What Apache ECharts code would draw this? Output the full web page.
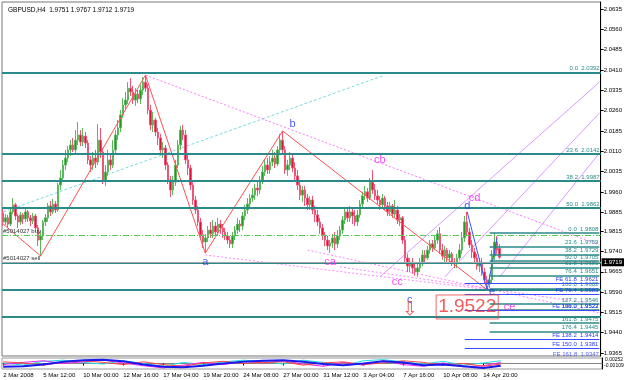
<!DOCTYPE html>
<html>
<head>
<meta charset="utf-8">
<script src="https://cdn.jsdelivr.net/npm/echarts@6/dist/echarts.min.js"></script>
<style>
html,body{margin:0;padding:0;background:#fff}
#PriceChart{width:625px;height:380px}
</style>
</head>
<body>
<div id="PriceChart"></div>
<script>
//GBPUSD H4 bars: [open, close, low, high]
var candles = [
[1.9882,1.9849,1.9834,1.9900],[1.9849,1.9864,1.9838,1.9878],[1.9864,1.9841,1.9827,1.9875],[1.9841,1.9886,1.9834,1.9897],[1.9886,1.9912,1.9878,1.9937],
[1.9912,1.9871,1.9856,1.9919],[1.9871,1.9849,1.9827,1.9878],[1.9849,1.9875,1.9838,1.9886],[1.9875,1.9860,1.9841,1.9882],[1.9860,1.9886,1.9849,1.9900],
[1.9886,1.9864,1.9849,1.9893],[1.9864,1.9853,1.9834,1.9875],[1.9853,1.9871,1.9841,1.9882],[1.9871,1.9827,1.9812,1.9878],[1.9827,1.9782,1.9760,1.9838],
[1.9782,1.9797,1.9723,1.9816],[1.9797,1.9849,1.9782,1.9856],[1.9849,1.9864,1.9834,1.9878],[1.9864,1.9908,1.9849,1.9919],[1.9908,1.9886,1.9871,1.9926],
[1.9886,1.9915,1.9878,1.9934],[1.9915,1.9893,1.9882,1.9926],[1.9893,1.9985,1.9886,1.9993],[1.9985,2.0011,1.9967,2.0041],[2.0011,2.0059,1.9996,2.0078],
[2.0059,2.0085,2.0041,2.0115],[2.0085,2.0115,2.0070,2.0129],[2.0115,2.0133,2.0092,2.0151],[2.0133,2.0115,2.0107,2.0159],[2.0115,2.0151,2.0103,2.0188],
[2.0151,2.0170,2.0133,2.0218],[2.0170,2.0144,2.0129,2.0188],[2.0144,2.0166,2.0129,2.0196],[2.0166,2.0140,2.0122,2.0181],[2.0140,2.0078,2.0063,2.0151],
[2.0078,2.0059,2.0033,2.0092],[2.0059,2.0085,2.0041,2.0107],[2.0085,2.0070,2.0048,2.0115],[2.0070,2.0151,2.0059,2.0210],[2.0151,2.0107,2.0085,2.0196],
[2.0107,2.0004,1.9989,2.0122],[2.0004,2.0033,1.9982,2.0059],[2.0033,2.0078,2.0019,2.0115],[2.0078,2.0059,2.0041,2.0100],[2.0059,2.0115,2.0048,2.0151],
[2.0115,2.0170,2.0096,2.0188],[2.0170,2.0196,2.0151,2.0225],[2.0196,2.0244,2.0181,2.0262],[2.0244,2.0281,2.0233,2.0306],[2.0281,2.0299,2.0262,2.0329],
[2.0299,2.0343,2.0284,2.0365],[2.0343,2.0329,2.0314,2.0380],[2.0329,2.0299,2.0284,2.0351],[2.0299,2.0321,2.0277,2.0343],[2.0321,2.0303,2.0288,2.0336],
[2.0303,2.0336,2.0284,2.0354],[2.0336,2.0365,2.0317,2.0384],[2.0365,2.0343,2.0329,2.0391],[2.0343,2.0262,2.0247,2.0358],[2.0262,2.0207,2.0188,2.0281],
[2.0207,2.0225,2.0181,2.0255],[2.0225,2.0181,2.0166,2.0233],[2.0181,2.0159,2.0133,2.0196],[2.0159,2.0115,2.0096,2.0174],[2.0115,2.0122,2.0085,2.0144],
[2.0122,2.0059,2.0041,2.0133],[2.0059,2.0004,1.9989,2.0070],[2.0004,1.9967,1.9941,2.0019],[1.9967,1.9996,1.9948,2.0019],[1.9996,2.0059,1.9982,2.0078],
[2.0059,2.0133,2.0048,2.0151],[2.0133,2.0188,2.0115,2.0203],[2.0188,2.0170,2.0151,2.0207],[2.0170,2.0078,2.0063,2.0188],[2.0078,2.0048,2.0022,2.0096],
[2.0048,1.9985,1.9967,2.0059],[1.9985,1.9930,1.9912,1.9996],[1.9930,1.9893,1.9878,1.9945],[1.9893,1.9849,1.9834,1.9908],[1.9849,1.9801,1.9782,1.9864],
[1.9801,1.9775,1.9753,1.9819],[1.9775,1.9790,1.9734,1.9805],[1.9790,1.9819,1.9775,1.9834],[1.9819,1.9805,1.9790,1.9849],[1.9805,1.9834,1.9790,1.9856],
[1.9834,1.9812,1.9797,1.9849],[1.9812,1.9841,1.9797,1.9864],[1.9841,1.9827,1.9805,1.9856],[1.9827,1.9812,1.9790,1.9841],[1.9812,1.9797,1.9782,1.9827],
[1.9797,1.9782,1.9768,1.9812],[1.9782,1.9768,1.9753,1.9797],[1.9768,1.9797,1.9753,1.9812],[1.9797,1.9819,1.9782,1.9834],[1.9819,1.9841,1.9805,1.9864],
[1.9841,1.9834,1.9812,1.9856],[1.9834,1.9871,1.9819,1.9886],[1.9871,1.9893,1.9856,1.9912],[1.9893,1.9915,1.9878,1.9937],[1.9915,1.9937,1.9900,1.9952],
[1.9937,1.9948,1.9923,1.9974],[1.9948,1.9974,1.9930,1.9989],[1.9974,1.9967,1.9945,1.9996],[1.9967,2.0004,1.9952,2.0019],[2.0004,2.0033,1.9989,2.0055],
[2.0033,2.0059,2.0019,2.0078],[2.0059,2.0041,2.0026,2.0085],[2.0041,2.0070,2.0026,2.0092],[2.0070,2.0085,2.0055,2.0115],[2.0085,2.0063,2.0048,2.0107],
[2.0063,2.0115,2.0055,2.0129],[2.0115,2.0151,2.0100,2.0174],[2.0151,2.0115,2.0100,2.0185],[2.0115,2.0041,2.0026,2.0129],[2.0041,2.0059,2.0019,2.0078],
[2.0059,2.0085,2.0041,2.0107],[2.0085,2.0048,2.0033,2.0100],[2.0048,2.0019,2.0004,2.0070],[2.0019,1.9985,1.9967,2.0041],[1.9985,1.9948,1.9930,2.0004],
[1.9948,1.9967,1.9923,1.9982],[1.9967,1.9937,1.9908,1.9982],[1.9937,1.9912,1.9893,1.9952],[1.9912,1.9930,1.9893,1.9945],[1.9930,1.9893,1.9878,1.9945],
[1.9893,1.9875,1.9849,1.9908],[1.9875,1.9849,1.9834,1.9893],[1.9849,1.9827,1.9805,1.9864],[1.9827,1.9801,1.9782,1.9841],[1.9801,1.9782,1.9760,1.9812],
[1.9782,1.9760,1.9745,1.9797],[1.9760,1.9771,1.9734,1.9782],[1.9771,1.9790,1.9753,1.9805],[1.9790,1.9768,1.9745,1.9812],[1.9768,1.9797,1.9753,1.9819],
[1.9797,1.9819,1.9782,1.9834],[1.9819,1.9856,1.9805,1.9871],[1.9856,1.9886,1.9841,1.9900],[1.9886,1.9864,1.9849,1.9900],[1.9864,1.9886,1.9849,1.9908],
[1.9886,1.9871,1.9841,1.9900],[1.9871,1.9849,1.9834,1.9893],[1.9849,1.9875,1.9834,1.9893],[1.9875,1.9915,1.9864,1.9930],[1.9915,1.9945,1.9900,1.9960],
[1.9945,1.9960,1.9930,1.9982],[1.9960,1.9937,1.9923,1.9974],[1.9937,1.9996,1.9930,2.0011],[1.9996,1.9967,1.9952,2.0041],[1.9967,1.9945,1.9930,1.9989],
[1.9945,1.9930,1.9915,1.9967],[1.9930,1.9912,1.9893,1.9945],[1.9912,1.9937,1.9900,1.9952],[1.9937,1.9908,1.9893,1.9945],[1.9908,1.9886,1.9871,1.9923],
[1.9886,1.9908,1.9871,1.9923],[1.9908,1.9878,1.9864,1.9915],[1.9878,1.9893,1.9864,1.9930],[1.9893,1.9856,1.9841,1.9908],[1.9856,1.9864,1.9834,1.9878],
[1.9864,1.9782,1.9768,1.9871],[1.9782,1.9716,1.9701,1.9797],[1.9716,1.9686,1.9664,1.9731],[1.9686,1.9701,1.9664,1.9716],[1.9701,1.9679,1.9657,1.9716],
[1.9679,1.9664,1.9650,1.9694],[1.9664,1.9679,1.9646,1.9701],[1.9679,1.9701,1.9664,1.9716],[1.9701,1.9727,1.9686,1.9745],[1.9727,1.9716,1.9701,1.9745],
[1.9716,1.9745,1.9709,1.9760],[1.9745,1.9768,1.9731,1.9782],[1.9768,1.9753,1.9738,1.9782],[1.9753,1.9782,1.9745,1.9797],[1.9782,1.9805,1.9768,1.9819],
[1.9805,1.9745,1.9731,1.9830],[1.9745,1.9723,1.9709,1.9768],[1.9723,1.9745,1.9701,1.9760],[1.9745,1.9716,1.9701,1.9753],[1.9716,1.9731,1.9694,1.9745],
[1.9731,1.9701,1.9686,1.9738],[1.9701,1.9694,1.9679,1.9716],[1.9694,1.9716,1.9679,1.9731],[1.9716,1.9745,1.9709,1.9768],[1.9745,1.9790,1.9731,1.9812],
[1.9790,1.9849,1.9775,1.9871],[1.9849,1.9812,1.9797,1.9886],[1.9812,1.9764,1.9753,1.9827],[1.9764,1.9738,1.9716,1.9782],[1.9738,1.9716,1.9694,1.9753],
[1.9716,1.9686,1.9672,1.9731],[1.9686,1.9701,1.9664,1.9716],[1.9701,1.9664,1.9650,1.9716],[1.9664,1.9635,1.9620,1.9679],[1.9635,1.9620,1.9602,1.9650],
[1.9620,1.9635,1.9605,1.9657],[1.9635,1.9723,1.9620,1.9745],[1.9723,1.9775,1.9709,1.9808],[1.9775,1.9745,1.9731,1.9797],[1.9751,1.9719,1.9712,1.9767]
];
var barCount = 240;   //包含右侧空白区域
var labelStep = 16;
var timeLabels = ['2 Mar 2008', '5 Mar 12:00', '10 Mar 00:00', '12 Mar 16:00', '17 Mar 04:00', '19 Mar 20:00', '24 Mar 08:00',
    '27 Mar 00:00', '31 Mar 12:00', '3 Apr 04:00', '7 Apr 16:00', '10 Apr 08:00', '14 Apr 20:00'];
var priceTicks = [2.0635, 2.0560, 2.0485, 2.0410, 2.0335, 2.0260, 2.0185, 2.0110, 2.0035, 1.9960, 1.9885, 1.9815,
    1.9740, 1.9665, 1.9590, 1.9515, 1.9440, 1.9365];
var lastPrice = 1.9719;

//大斐波那契水平线
var bigFibLevels = [2.0392, 2.0142, 1.9987, 1.9862, 1.9737, 1.9560, 1.9545, 1.9454];
var bigFibNames = ['0.0', '23.6', '38.2', '50.0', '', '', '', ''];
//订单线
var orderLevels = [1.9849, 1.9672];
var orderNames = ['#5014027 buy', '#5014027 sell'];
//小斐波那契 (右侧)
var smallFibLevels = [1.9808, 1.9759, 1.9729, 1.9705, 1.9681, 1.9651, 1.9602, 1.9546, 1.9523, 1.9475, 1.9445];
var smallFibNames = ['0.0', '23.6', '38.2', '50.0', '61.8', '76.4', '100.0', '127.2', '138.2', '161.8', '176.4'];
var smallFibStart = 195;
var feLevels = [1.9621, 1.9583, 1.9522, 1.9414, 1.9381];
var feNames = ['FE 61.8', 'FE 76.4', 'FE 100.0', 'FE 138.2', 'FE 150.0'];
var feStart = 185;

//趋势线 [bar, price]
var zigzagPoints = [[0, 1.9841], [15, 1.9723], [57, 2.0391], [81, 1.9734], [112, 2.0185], [194, 1.9598]];
var waveDePoints = [[186, 1.9886], [194, 1.9598], [198, 1.9790]];
var cyanLine = [[0, 1.9886], [152, 2.0388]];
var pinkUpper = [[57, 2.0391], [239, 1.9764]];
var pinkLowers = [
    [[81, 1.9727], [195, 1.9598]],
    [[122, 1.9745], [239, 1.9513]],
    [[135, 1.9683], [239, 1.9543]]
];
var violetLines = [
    [[151, 1.9646], [239, 2.0365]],
    [[177, 1.9646], [239, 2.0251]],
    [[199, 1.9646], [239, 2.0103]]
];

//波浪标注
var waveLabels = [
    { name: 'a', bar: 81, price: 1.9701, color: '#2233ee' },
    { name: 'b', bar: 116, price: 2.0210, color: '#2233ee' },
    { name: 'c', bar: 163, price: 1.9561, color: '#2233ee' },
    { name: 'd', bar: 186, price: 1.9908, color: '#2233ee' },
    { name: 'e', bar: 196, price: 1.9590, color: '#2233ee' },
    { name: 'ca', bar: 131, price: 1.9701, color: '#ee22ee' },
    { name: 'cb', bar: 151, price: 2.0078, color: '#ee22ee' },
    { name: 'cc', bar: 158, price: 1.9628, color: '#ee22ee' },
    { name: 'cd', bar: 189, price: 1.9937, color: '#ee22ee' },
    { name: 'ce', bar: 203, price: 1.9535, color: '#ee22ee' }
];

//指标窗口
var oscIdx = [0, 8, 16, 24, 32, 40, 48, 56, 64, 72, 80, 88, 96, 104, 112, 120, 128, 136, 144, 152, 160, 168, 176, 184, 192, 199];
var oscBlue = [-0.6, -0.5, -0.2, 0.3, 0.6, 0.7, 0.4, -0.2, -0.6, -0.7, -0.4, 0.0, 0.3, 0.5, 0.6, 0.3, -0.1, -0.3, 0.0, 0.4, 0.2, -0.3, -0.2, -0.5, -0.8, -0.4];
var oscMagenta = [-0.2, 0.2, 0.5, 0.0, 0.3, 0.6, 0.1, -0.4, -0.8, -0.3, 0.2, -0.2, 0.4, 0.1, 0.5, -0.1, -0.5, 0.2, -0.3, 0.5, -0.2, -0.5, 0.1, -0.6, -0.4, 0.2];
var oscCyan = [0.1, -0.3, 0.4, 0.6, 0.2, -0.1, 0.5, 0.0, -0.5, 0.2, -0.2, 0.3, 0.6, 0.4, -0.1, 0.6, 0.2, -0.4, 0.5, 0.7, 0.3, -0.1, 0.4, -0.3, 0.1, 0.5];
var oscRed = [0.3, 0.1, -0.3, 0.2, 0.5, 0.2, -0.2, 0.3, -0.2, -0.5, 0.1, 0.4, 0.0, 0.2, 0.3, -0.3, 0.1, 0.3, -0.2, 0.1, 0.5, 0.2, -0.3, 0.0, -0.5, -0.1];

var FONT = 'Liberation Sans';

showChart();

//显示图表
function showChart() {
    var categories = [];
    for (var i = 0; i < barCount; i++) {
        var k = i / labelStep;
        categories.push(i % labelStep === 0 && timeLabels[k] ? timeLabels[k] : '');
    }
    var hasLabel = function (index, value) { return value !== ''; };

    //水平线
    var hLines = [];
    bigFibLevels.forEach(function (p, k) {
        hLines.push({
            yAxis: p,
            lineStyle: { color: '#2a8a8a', width: 2, type: 'solid' },
            label: { show: bigFibNames[k] !== '', position: 'insideEndTop', distance: 1, formatter: bigFibNames[k] + '  ' + p.toFixed(4), color: '#2a8a8a', fontSize: 6, fontFamily: FONT }
        });
    });
    orderLevels.forEach(function (p, k) {
        hLines.push({
            yAxis: p,
            lineStyle: { color: '#55cc55', width: 1, type: [6, 2, 1, 2] },
            label: { show: true, position: 'insideStartTop', distance: 1, formatter: orderNames[k], color: '#333', fontSize: 6, fontFamily: FONT }
        });
    });
    hLines.push({
        yAxis: lastPrice,
        lineStyle: { color: '#a8a8a8', width: 1, type: 'solid' },
        label: { show: true, position: 'end', distance: 1, formatter: lastPrice.toFixed(4), color: '#fff', backgroundColor: '#000', padding: [1, 2], fontSize: 6, fontFamily: FONT }
    });
    smallFibLevels.forEach(function (p, k) {
        hLines.push([{
            coord: [smallFibStart, p],
            lineStyle: { color: '#2a8a8a', width: 1.5, type: 'solid' },
            label: { show: true, position: 'insideEndTop', distance: 1, formatter: smallFibNames[k] + '  ' + p.toFixed(4), color: '#2a8a8a', fontSize: 6, fontFamily: FONT }
        }, { coord: [barCount - 1, p] }]);
    });
    feLevels.forEach(function (p, k) {
        hLines.push([{
            coord: [feStart, p],
            lineStyle: { color: '#3a4cff', width: 1, type: 'solid' },
            label: { show: true, position: 'insideEndTop', distance: 1, formatter: feNames[k] + '  ' + p.toFixed(4), color: '#2b3bff', fontSize: 6, fontFamily: FONT }
        }, { coord: [barCount - 1, p] }]);
    });

    var series = [{
        type: 'candlestick',
        data: candles,
        barWidth: 2,
        itemStyle: { color: '#1c9c1c', color0: '#e0103a', borderColor: '#5cb85c', borderColor0: '#ee5577', borderWidth: 1 },
        markLine: { silent: true, symbol: ['none', 'none'], data: hLines },
        z: 3
    }];

    var addLine = function (pts, color, width, type, z) {
        series.push({
            type: 'line', data: pts, symbol: 'none', silent: true,
            lineStyle: { color: color, width: width, type: type }, z: z
        });
    };
    addLine(cyanLine, '#77dddd', 1, [3, 2], 2);
    addLine(pinkUpper, '#ff77ff', 1, [2, 2], 2);
    pinkLowers.forEach(function (l) { addLine(l, '#ff88ff', 1, [2, 2], 2); });
    violetLines.forEach(function (l) { addLine(l, '#dd99ff', 1, 'solid', 2); });
    addLine(zigzagPoints, '#ff5050', 1, 'solid', 4);
    addLine(waveDePoints, '#3355ff', 1, 'solid', 4);

    //文字标注
    var notes = waveLabels.map(function (w) {
        return { value: [w.bar, w.price], label: { formatter: w.name, color: w.color, fontSize: 11 } };
    });
    notes.push({ value: [186, 1.9535], label: { formatter: '1.9522', color: '#ee3333', fontSize: 19, fontFamily: FONT, borderColor: '#ee4444', borderWidth: 1, padding: [3, 2, 2, 2] } });
    notes.push({ value: [163, 1.9522], label: { formatter: '\u21e9', color: '#ee3333', fontSize: 19, fontFamily: 'DejaVu Sans' } });
    series.push({
        type: 'scatter', data: notes, symbolSize: 1, silent: true, z: 5,
        itemStyle: { color: 'rgba(0,0,0,0)' },
        label: { show: true, position: 'inside', fontFamily: FONT }
    });
    series.push({
        type: 'scatter', data: [{ value: [barCount - 1, 1.9361] }], symbolSize: 1, silent: true, z: 5,
        itemStyle: { color: 'rgba(0,0,0,0)' },
        label: { show: true, position: 'left', distance: 0, formatter: 'FE 161.8  1.9347', color: '#2b3bff', fontSize: 6, fontFamily: FONT }
    });

    //指标线
    var oscLine = function (vals, color, width) {
        series.push({
            type: 'line', xAxisIndex: 1, yAxisIndex: 1, symbol: 'none', silent: true,
            data: oscIdx.map(function (x, k) { return [x, vals[k]]; }),
            lineStyle: { color: color, width: width }
        });
    };
    oscLine(oscCyan, '#22dddd', 1);
    oscLine(oscMagenta, '#ee22ee', 1);
    oscLine(oscRed, '#ff4444', 1);
    oscLine(oscBlue, '#1a1aee', 2);

    var myChart = echarts.init(document.getElementById('PriceChart'));
    var option = {
        animation: false,
        backgroundColor: '#fff',
        title: {
            text: 'GBPUSD,H4  1.9751 1.9767 1.9712 1.9719',
            left: 3, top: 2,
            textStyle: { fontSize: 6.5, fontWeight: 'normal', color: '#000', fontFamily: FONT }
        },
        grid: [
            { left: 2, right: 23, top: 2, height: 354, show: true, borderColor: '#777', borderWidth: 1 },
            { left: 2, right: 23, top: 358, height: 11, show: true, borderColor: '#999', borderWidth: 1 }
        ],
        xAxis: [
            { type: 'category', gridIndex: 0, data: categories, boundaryGap: true, axisLine: { show: false }, axisTick: { show: false }, axisLabel: { show: false }, splitLine: { show: false } },
            {
                type: 'category', gridIndex: 1, data: categories, boundaryGap: true,
                axisLine: { lineStyle: { color: '#888' } },
                axisTick: { show: true, length: 2, interval: hasLabel, alignWithLabel: true, lineStyle: { color: '#000' } },
                axisLabel: { interval: hasLabel, fontSize: 6, color: '#000', align: 'left', margin: 3, fontFamily: FONT },
                splitLine: { show: false }
            }
        ],
        yAxis: [
            {
                type: 'value', gridIndex: 0, position: 'right', min: 1.9354, max: 2.0661, scale: true,
                axisLine: { show: true, lineStyle: { color: '#000' } },
                axisTick: { show: true, length: 3, customValues: priceTicks, lineStyle: { color: '#000' } },
                axisLabel: { customValues: priceTicks, formatter: function (v) { return v.toFixed(4); }, fontSize: 6, margin: 3, color: '#000', fontFamily: FONT },
                splitLine: { show: false }
            },
            {
                type: 'value', gridIndex: 1, position: 'right', min: -1, max: 1,
                axisLine: { show: true, lineStyle: { color: '#000' } },
                axisTick: { show: false }, axisLabel: { show: false }, splitLine: { show: false }
            }
        ],
        graphic: [
            { type: 'text', left: 605, top: 357, style: { text: '0.00252', fill: '#000', font: '5px Liberation Sans' } },
            { type: 'text', left: 604, top: 363, style: { text: '-0.00109', fill: '#000', font: '5px Liberation Sans' } }
        ],
        series: series
    };
    myChart.setOption(option);
}
</script>
</body>
</html>
